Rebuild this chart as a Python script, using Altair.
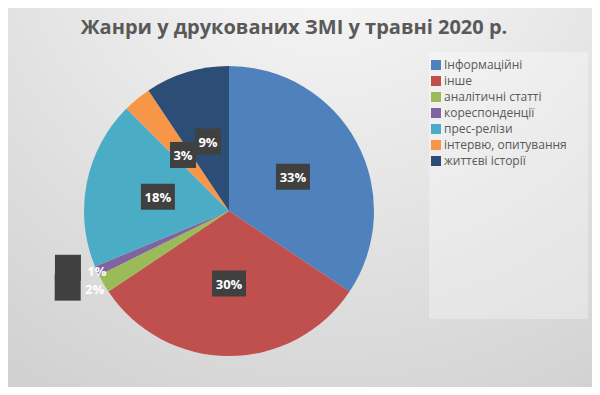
import altair as alt
import pandas as pd

genres = ["Інформаційні", "інше", "аналітичні статті", "кореспонденції",
          "прес-релізи", "інтервю, опитування", "життєві історії"]
values = [33, 30, 2, 1, 18, 3, 9]
colors = ["#4F81BD", "#C0504D", "#9BBB59", "#8064A2", "#4BACC6", "#F79646", "#2C4D75"]

df = pd.DataFrame({"genre": genres, "value": values, "idx": list(range(len(genres)))})
one = pd.DataFrame({"a": [0]})

W = 290
R = 145
FONT = "Open Sans"

base = alt.Chart(df)

bg = alt.Chart(one).mark_rect(
    color={"gradient": "radial", "x1": 0.55, "y1": 0.0, "r1": 0.0,
           "x2": 0.55, "y2": 0.0, "r2": 1.15,
           "stops": [{"offset": 0, "color": "#fbfbfb"}, {"offset": 1, "color": "#c9c9c9"}]}
).encode(x=alt.value(-76), x2=alt.value(508), y=alt.value(-58), y2=alt.value(321))

legend_box = alt.Chart(one).mark_rect(color="white", opacity=0.3).encode(
    x=alt.value(345), x2=alt.value(504), y=alt.value(-14), y2=alt.value(253))

arcs = base.mark_arc(outerRadius=R).encode(
    theta=alt.Theta("value:Q", stack=True),
    color=alt.Color("genre:N",
                    scale=alt.Scale(domain=genres, range=colors),
                    legend=alt.Legend(orient="none", legendX=346, legendY=-7, title=None,
                                      symbolType="square", symbolSize=100, symbolStrokeWidth=0,
                                      labelFont=FONT, labelFontSize=12, labelColor="#595959",
                                      rowPadding=4, labelOffset=2, padding=0)),
    order=alt.Order("idx:Q"),
)

pos = base.transform_joinaggregate(total="sum(value)").transform_window(
    cum="sum(value)", sort=[alt.SortField("idx")], frame=[None, 0]
).transform_calculate(
    mid="(datum.cum - datum.value/2)/datum.total*2*PI",
    r="datum.value <= 1 ? 1.0 : (datum.value <= 2 ? 1.07 : 0.5)",
    px="datum.r*sin(datum.mid)",
    py="datum.r*cos(datum.mid)",
    label="toString(datum.value) + '%'",
    shp=("datum.value <= 1 ? 'M-2.47,-0.945H-0.94V0.585H-2.47Z' : "
         "(datum.value <= 2 ? 'M-2.35,-0.85H-0.82V0.71H-2.35Z' : "
         "(datum.value >= 10 ? 'M-1,-0.765H1V0.765H-1Z' : 'M-0.765,-0.765H0.765V0.765H-0.765Z'))"),
)

xs = alt.X("px:Q", scale=alt.Scale(domain=[-1, 1], zero=False, nice=False), axis=None)
ys = alt.Y("py:Q", scale=alt.Scale(domain=[-1, 1], zero=False, nice=False), axis=None)

boxes = pos.mark_point(filled=True, opacity=1, color="#404040", size=1156, strokeWidth=0).encode(
    x=xs, y=ys, shape=alt.Shape("shp:N", scale=None))

texts = pos.mark_text(font=FONT, fontSize=13, fontWeight="bold", color="white", dy=1).encode(
    x=xs, y=ys, text="label:N")

chart = alt.layer(bg, legend_box, arcs, boxes, texts).properties(
    width=W, height=W,
    autosize=alt.AutoSizeParams(type="none"),
    padding={"left": 76, "top": 58, "right": 218, "bottom": 31},
    title=alt.TitleParams("Жанри у друкованих ЗМІ у травні 2020 р.", font=FONT, fontSize=20,
                          fontWeight="bold", color="#595959", anchor="middle", dx=65, dy=46,
                          baseline="alphabetic", offset=0, frame="group"),
).configure_view(stroke=None)

chart.save("out.html", embed_options={"renderer": "svg", "actions": False})
